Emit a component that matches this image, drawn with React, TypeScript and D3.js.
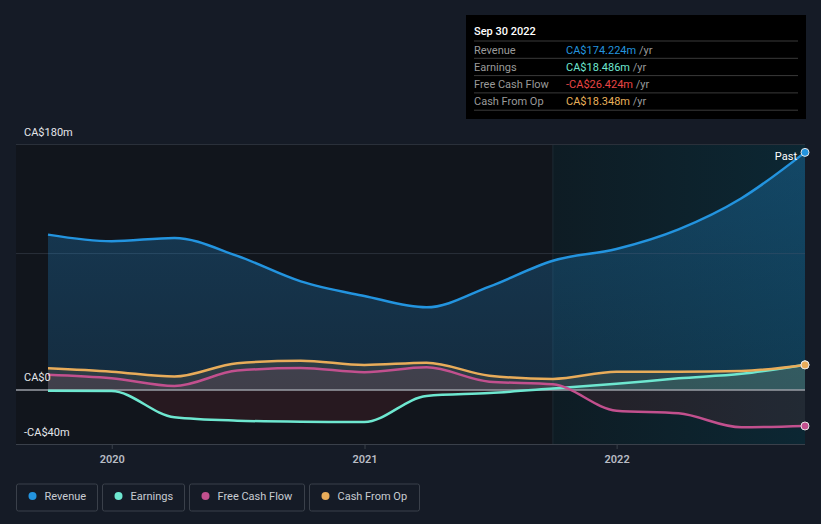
import React from "react";
import * as d3 from "d3";

const dates = [
  "2019-09-30", "2019-12-31", "2020-03-31", "2020-06-30", "2020-09-30", "2020-12-31",
  "2021-03-31", "2021-06-30", "2021-09-30", "2021-12-31", "2022-03-31", "2022-06-30", "2022-09-30",
];
const revenue = [113.9, 109.0, 111.5, 98.3, 79.6, 68.9, 60.6, 75.8, 94.8, 103.4, 117.8, 140.6, 174.224];
const earnings = [-0.5, -0.8, -20.0, -22.5, -23.3, -23.5, -4.4, -2.3, 1.0, 4.5, 8.5, 11.8, 18.486];
const freeCashFlow = [11.2, 8.6, 2.9, 14.2, 16.1, 13.0, 16.6, 6.1, 4.2, -15.2, -17.1, -27.4, -26.424];
const cashFromOp = [15.9, 13.4, 9.8, 19.6, 21.5, 18.3, 20.0, 10.5, 8.1, 13.4, 13.4, 13.9, 18.348];

const yTicks = [180, 100, 0, -40];
const yLabels = [
  { v: 180, t: "CA$180m" },
  { v: 0, t: "CA$0" },
  { v: -40, t: "-CA$40m" },
];
const xTickYears = ["2020", "2021", "2022"];
const highlightStart = "2021-09-30";

const tooltipTitle = "Sep 30 2022";
const tooltipRows = [
  { label: "Revenue", value: "CA$174.224m", color: "#2394df" },
  { label: "Earnings", value: "CA$18.486m", color: "#6ee7d0" },
  { label: "Free Cash Flow", value: "-CA$26.424m", color: "#e84545" },
  { label: "Cash From Op", value: "CA$18.348m", color: "#e8b15a" },
];

const seriesDefs = [
  { name: "Revenue", values: revenue, color: "#2394df" },
  { name: "Earnings", values: earnings, color: "#6ee7d0" },
  { name: "Free Cash Flow", values: freeCashFlow, color: "#c2508e" },
  { name: "Cash From Op", values: cashFromOp, color: "#e8ac5a" },
];

const W = 821;
const H = 524;
const FONT = "Roboto, 'Noto Sans', sans-serif";

export default function App() {
  const parse = d3.timeParse("%Y-%m-%d");
  const xDates = dates.map((d) => parse(d) as Date);
  const x = d3.scaleTime().domain([xDates[0], xDates[xDates.length - 1]]).range([48, 805]);
  const y = d3.scaleLinear().domain([-40, 180]).range([444.5, 144.5]);
  const y0 = y(0);
  const plotLeft = 16;
  const plotRight = 805;
  const hx = x(parse(highlightStart) as Date);

  const lineGen = (vals: number[]) =>
    d3
      .line<number>()
      .x((_, i) => x(xDates[i]))
      .y((v) => y(v))
      .curve(d3.curveMonotoneX)(vals) as string;
  const areaGen = (vals: number[]) =>
    d3
      .area<number>()
      .x((_, i) => x(xDates[i]))
      .y0(y0)
      .y1((v) => y(v))
      .curve(d3.curveMonotoneX)(vals) as string;

  const legendItems = [
    { name: "Revenue", color: "#2394df", x: 16.5, w: 81 },
    { name: "Earnings", color: "#6ee7d0", x: 102.5, w: 82 },
    { name: "Free Cash Flow", color: "#c2508e", x: 189.5, w: 115 },
    { name: "Cash From Op", color: "#e8ac5a", x: 309.5, w: 110 },
  ];

  return (
    <svg width={W} height={H} style={{ display: "block", position: "absolute", left: 0, top: 0, fontFamily: FONT }}>
      <defs>
        <linearGradient id="hl" x1="0" x2="1" y1="0" y2="0">
          <stop offset="0%" stopColor="#0e1c24" />
          <stop offset="100%" stopColor="#0c2733" />
        </linearGradient>
        <linearGradient id="revFill" x1="0" x2="0" y1="0" y2="1">
          <stop offset="0%" stopColor="#2394df" stopOpacity={0.3} />
          <stop offset="100%" stopColor="#2394df" stopOpacity={0.18} />
        </linearGradient>
        <clipPath id="above">
          <rect x={0} y={0} width={W} height={y0} />
        </clipPath>
        <clipPath id="below">
          <rect x={0} y={y0} width={W} height={H - y0} />
        </clipPath>
      </defs>
      <rect x={0} y={0} width={W} height={H} fill="#151b26" />
      <rect x={plotLeft} y={144} width={plotRight - plotLeft} height={300} fill="#11151c" />
      <rect x={hx} y={144} width={plotRight - hx} height={300} fill="url(#hl)" />
      <line x1={hx} x2={hx} y1={144} y2={444} stroke="#1c2a34" strokeWidth={1} />

      {yTicks.map((t) =>
        t === 0 ? null : (
          <line key={t} x1={plotLeft} x2={plotRight} y1={y(t)} y2={y(t)} stroke={t === -40 ? "#3a404a" : "#2a303a"} strokeWidth={1} />
        )
      )}

      {/* area fills */}
      <path d={areaGen(revenue)} fill="url(#revFill)" />
      {seriesDefs.slice(1).map((s) => (
        <g key={s.name + "a"}>
          <path d={areaGen(s.values)} fill={s.color} opacity={0.12} clipPath="url(#above)" />
          <path d={areaGen(s.values)} fill="#e84545" opacity={0.1} clipPath="url(#below)" />
        </g>
      ))}

      <line x1={plotLeft} x2={plotRight} y1={y0} y2={y0} stroke="#9a9ea6" strokeWidth={1.5} />

      {xTickYears.map((yr) => {
        const px = x(parse(yr + "-01-01") as Date);
        return (
          <g key={yr}>
            <line x1={px} x2={px} y1={444} y2={449} stroke="#3a404a" />
            <text x={px} y={463} textAnchor="middle" fill="#b8bcc4" fontSize={11} fontWeight={600}>
              {yr}
            </text>
          </g>
        );
      })}

      {seriesDefs.map((s) => (
        <path key={s.name} d={lineGen(s.values)} fill="none" stroke={s.color} strokeWidth={2.5} />
      ))}

      {seriesDefs.map((s) => (
        <circle
          key={s.name + "c"}
          cx={x(xDates[xDates.length - 1])}
          cy={y(s.values[s.values.length - 1])}
          r={4}
          fill={s.color}
          stroke="#e6e6e6"
          strokeWidth={1}
        />
      ))}

      <text x={797} y={160} textAnchor="end" fill="#ffffff" fontSize={11}>
        Past
      </text>

      {yLabels.map((l) => (
        <text key={l.t} x={24} y={l.v === 180 ? 136 : l.v === 0 ? 381 : 436} fill="#e4e6ea" fontSize={11}>
          {l.t}
        </text>
      ))}

      {/* tooltip */}
      <rect x={466} y={15} width={340} height={104} fill="#000000" />
      <text x={474} y={35} fill="#ffffff" fontSize={11} fontWeight={500}>
        {tooltipTitle}
      </text>
      {tooltipRows.map((r, i) => {
        const top = 41 + i * 17.3;
        return (
          <g key={r.label}>
            <line x1={474} x2={798} y1={top} y2={top} stroke="#3a3a3a" />
            <text x={474} y={top + 12.5} fill="#9a9a9a" fontSize={11}>
              {r.label}
            </text>
            <text x={566} y={top + 12.5} fontSize={11}>
              <tspan fill={r.color}>{r.value}</tspan>
              <tspan fill="#9a9a9a"> /yr</tspan>
            </text>
          </g>
        );
      })}
      <line x1={474} x2={798} y1={41 + 4 * 17.3} y2={41 + 4 * 17.3} stroke="#3a3a3a" />

      {/* legend */}
      {legendItems.map((it) => (
        <g key={it.name}>
          <rect x={it.x} y={484} width={it.w} height={27} rx={2} fill="none" stroke="#3a404a" />
          <circle cx={it.x + 16} cy={496} r={4} fill={it.color} />
          <text x={it.x + 28} y={500} fill="#c8ccd2" fontSize={11}>
            {it.name}
          </text>
        </g>
      ))}
    </svg>
  );
}
